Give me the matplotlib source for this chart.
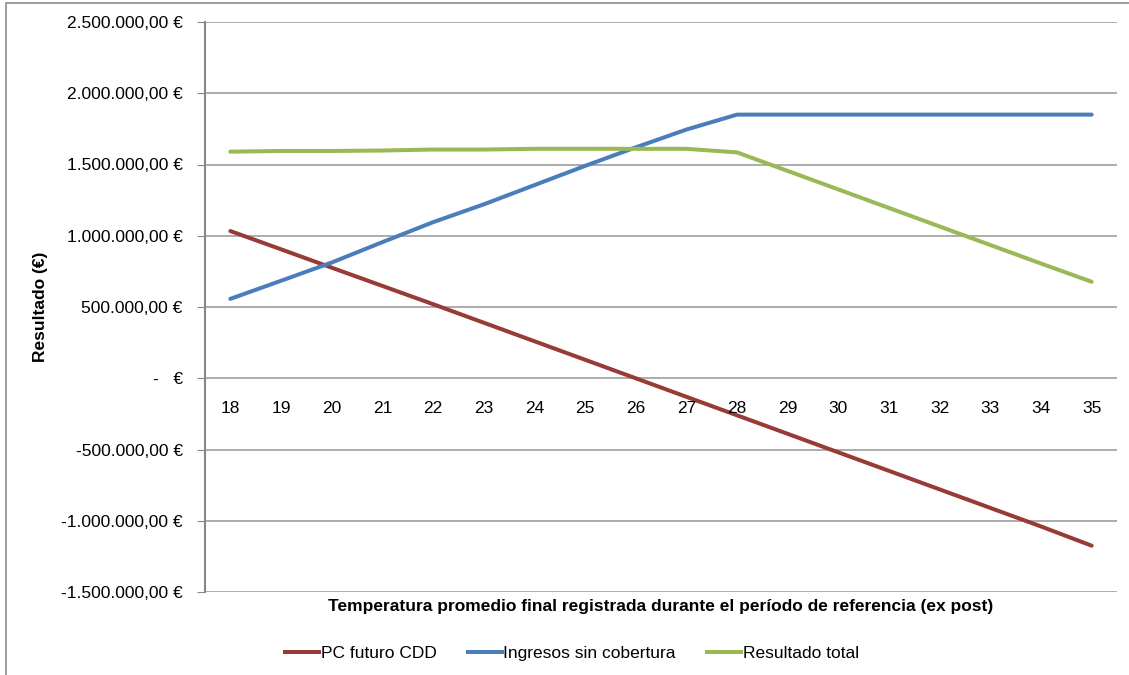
import matplotlib
matplotlib.use("Agg")
import matplotlib.pyplot as plt
from matplotlib.patches import Rectangle
from matplotlib.lines import Line2D

plt.rcParams["font.family"] = ["Liberation Sans", "DejaVu Sans"]

temps = list(range(18, 36))
pc_futuro = [1.033, 0.905, 0.776, 0.648, 0.52, 0.39, 0.26, 0.13, 0.0, -0.13,
             -0.26, -0.39, -0.52, -0.65, -0.78, -0.91, -1.04, -1.175]
ingresos = [0.557, 0.684, 0.812, 0.955, 1.095, 1.22, 1.355, 1.49, 1.62, 1.745,
            1.85, 1.85, 1.85, 1.85, 1.85, 1.85, 1.85, 1.85]
total = [1.59, 1.595, 1.595, 1.598, 1.605, 1.605, 1.61, 1.61, 1.61, 1.61,
         1.585, 1.455, 1.325, 1.195, 1.065, 0.935, 0.805, 0.677]
y_ticks = [-1.5, -1.0, -0.5, 0.0, 0.5, 1.0, 1.5, 2.0, 2.5]

RED, BLUE, GREEN = "#983B37", "#4A7EBB", "#98B954"
GRID = "#A6A6A6"
FS = 12.5


def euro(v):
    if v == 0:
        return "-   €"
    s = f"{abs(v) * 1e6:,.2f}".replace(",", "X").replace(".", ",").replace("X", ".")
    return ("-" if v < 0 else "") + s + " €"


fig = plt.figure(figsize=(11.29, 6.75), dpi=100)
ax = fig.add_axes([205 / 1129, 1 - 592 / 675, 912 / 1129, 570 / 675])

x = list(range(len(temps)))
lw = 2.9
ax.plot(x, pc_futuro, color=RED, lw=lw, solid_capstyle="round", zorder=3)
ax.plot(x, ingresos, color=BLUE, lw=lw, solid_capstyle="round", zorder=3)
ax.plot(x, total, color=GREEN, lw=lw, solid_capstyle="round", zorder=3)

ax.set_xlim(-0.5, len(temps) - 0.5)
ax.set_ylim(-1.5, 2.5)
ax.set_yticks(y_ticks)
ax.set_yticklabels([euro(v) for v in y_ticks], fontsize=FS)
ax.tick_params(axis="y", length=6, color="#868686", pad=10)
ax.set_xticks([])
for v in y_ticks:
    ax.axhline(v, color=GRID, lw=1.3, zorder=1)
for s in ["top", "right", "bottom"]:
    ax.spines[s].set_visible(False)
ax.spines["left"].set_color("#868686")
ax.spines["left"].set_linewidth(1.5)

# category labels next to zero line
for i, t in enumerate(temps):
    ax.annotate(str(t), (i, 0), xytext=(0, -21.5), textcoords="offset points",
                ha="center", va="center", fontsize=FS)

fig.text(661 / 1129, 1 - 607 / 675,
         "Temperatura promedio final registrada durante el período de referencia (ex post)",
         ha="center", va="center", fontsize=FS, fontweight="bold")
fig.text(40 / 1129, 1 - 307 / 675, "Resultado (€)", rotation=90,
         ha="center", va="center", fontsize=FS, fontweight="bold")

handles = [Line2D([], [], color=RED, lw=lw),
           Line2D([], [], color=BLUE, lw=lw),
           Line2D([], [], color=GREEN, lw=lw)]
fig.legend(handles, ["PC futuro CDD", "Ingresos sin cobertura", "Resultado total"],
           loc="center", bbox_to_anchor=(572 / 1129, 1 - 653 / 675), ncol=3,
           frameon=False, fontsize=FS, handlelength=1.95, handletextpad=0.1,
           columnspacing=1.8)

fig.patches.append(Rectangle((6 / 1129, -0.1), 1.2, 1 - 3 / 675 + 0.1,
                             transform=fig.transFigure, fill=False,
                             edgecolor="#8C8C8C", lw=1.2))

fig.savefig("out.png", dpi=100)
